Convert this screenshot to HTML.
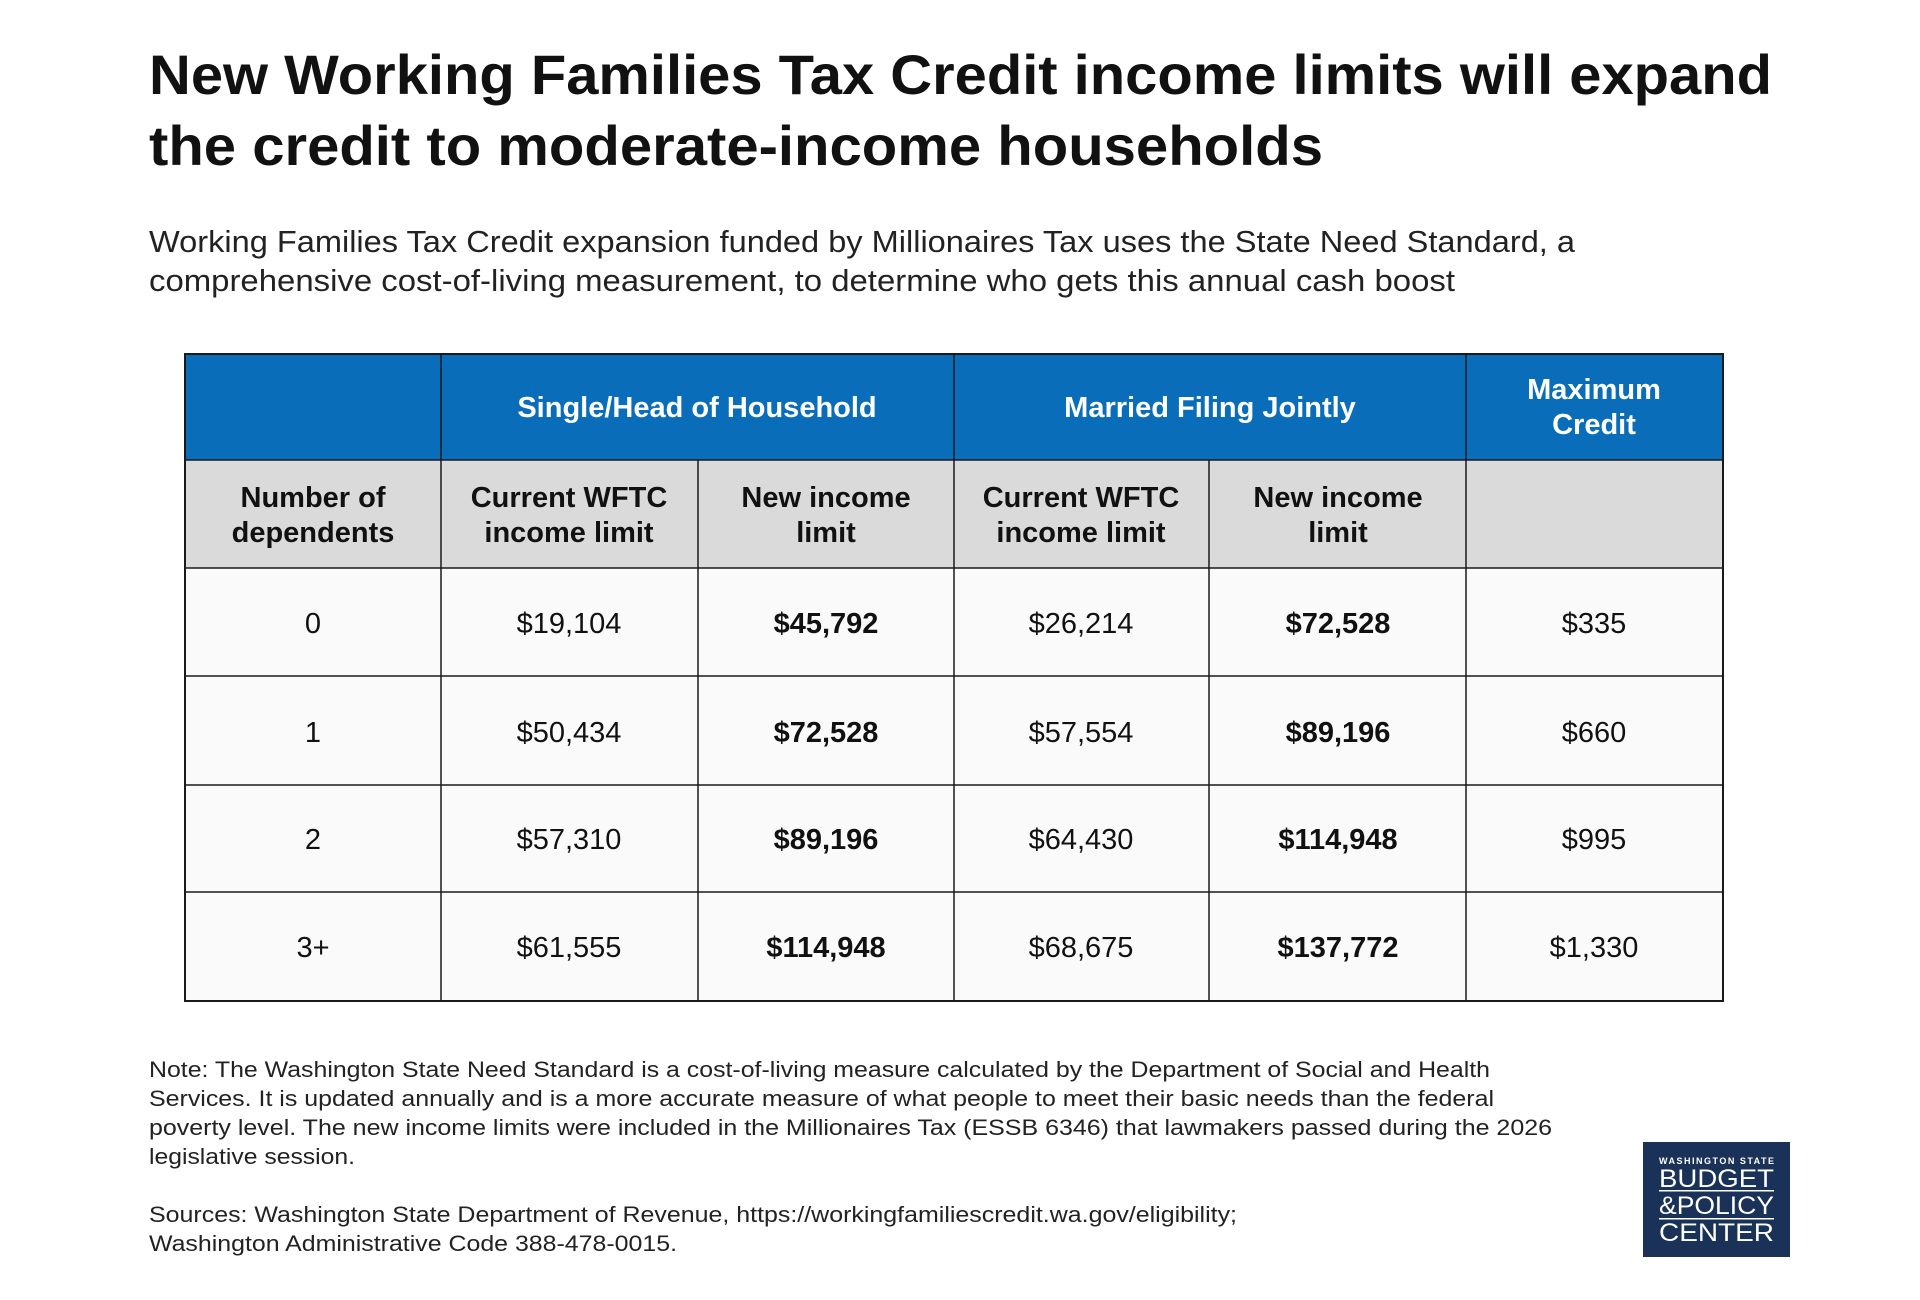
<!DOCTYPE html>
<html><head><meta charset="utf-8"><style>
html,body{margin:0;padding:0;background:#fff;}
svg{display:block;}
text{font-family:"Liberation Sans",sans-serif;}
</style></head><body>
<svg width="1920" height="1300" viewBox="0 0 1920 1300" xmlns="http://www.w3.org/2000/svg">
<rect width="1920" height="1300" fill="#fff"/>
<g fill="#111" font-weight="bold" font-size="56">
<text x="149" y="94" textLength="1623" lengthAdjust="spacingAndGlyphs">New Working Families Tax Credit income limits will expand</text>
<text x="149" y="165" textLength="1174" lengthAdjust="spacingAndGlyphs">the credit to moderate-income households</text>
</g>
<g fill="#222" font-size="31">
<text x="149" y="252" textLength="1426" lengthAdjust="spacingAndGlyphs">Working Families Tax Credit expansion funded by Millionaires Tax uses the State Need Standard, a</text>
<text x="149" y="291" textLength="1306" lengthAdjust="spacingAndGlyphs">comprehensive cost-of-living measurement, to determine who gets this annual cash boost</text>
</g>
<rect x="185" y="354" width="1538" height="106" fill="#0a6dba"/>
<rect x="185" y="460" width="1538" height="108" fill="#dadada"/>
<rect x="185" y="568" width="1538" height="433" fill="#fafafa"/>
<g stroke="#1a1a1a" stroke-width="1.5" fill="none">
<line x1="185" y1="460" x2="1723" y2="460"/>
<line x1="185" y1="568" x2="1723" y2="568"/>
<line x1="185" y1="676" x2="1723" y2="676"/>
<line x1="185" y1="785" x2="1723" y2="785"/>
<line x1="185" y1="892" x2="1723" y2="892"/>
<line x1="441" y1="354" x2="441" y2="1001"/>
<line x1="954" y1="354" x2="954" y2="1001"/>
<line x1="1466" y1="354" x2="1466" y2="1001"/>
<line x1="698" y1="460" x2="698" y2="1001"/>
<line x1="1209" y1="460" x2="1209" y2="1001"/>
<rect x="185" y="354" width="1538" height="647" stroke-width="2"/>
</g>
<g fill="#fff" font-weight="bold" font-size="29" text-anchor="middle">
<text x="697" y="417">Single/Head of Household</text>
<text x="1210" y="417">Married Filing Jointly</text>
<text x="1594" y="399">Maximum</text>
<text x="1594" y="434">Credit</text>
</g>
<g fill="#111" font-weight="bold" font-size="29" text-anchor="middle">
<text x="313" y="507">Number of</text><text x="313" y="542">dependents</text>
<text x="569" y="507">Current WFTC</text><text x="569" y="542">income limit</text>
<text x="826" y="507">New income</text><text x="826" y="542">limit</text>
<text x="1081" y="507">Current WFTC</text><text x="1081" y="542">income limit</text>
<text x="1338" y="507">New income</text><text x="1338" y="542">limit</text>
</g>
<g fill="#111" font-size="29" text-anchor="middle">
<text x="313" y="633">0</text><text x="569" y="633">$19,104</text><text x="826" y="633" font-weight="bold">$45,792</text><text x="1081" y="633">$26,214</text><text x="1338" y="633" font-weight="bold">$72,528</text><text x="1594" y="633">$335</text>
<text x="313" y="742">1</text><text x="569" y="742">$50,434</text><text x="826" y="742" font-weight="bold">$72,528</text><text x="1081" y="742">$57,554</text><text x="1338" y="742" font-weight="bold">$89,196</text><text x="1594" y="742">$660</text>
<text x="313" y="849">2</text><text x="569" y="849">$57,310</text><text x="826" y="849" font-weight="bold">$89,196</text><text x="1081" y="849">$64,430</text><text x="1338" y="849" font-weight="bold">$114,948</text><text x="1594" y="849">$995</text>
<text x="313" y="957">3+</text><text x="569" y="957">$61,555</text><text x="826" y="957" font-weight="bold">$114,948</text><text x="1081" y="957">$68,675</text><text x="1338" y="957" font-weight="bold">$137,772</text><text x="1594" y="957">$1,330</text>
</g>
<g fill="#222" font-size="22">
<text x="149" y="1077" textLength="1341" lengthAdjust="spacingAndGlyphs">Note: The Washington State Need Standard is a cost-of-living measure calculated by the Department of Social and Health</text>
<text x="149" y="1106" textLength="1345" lengthAdjust="spacingAndGlyphs">Services. It is updated annually and is a more accurate measure of what people to meet their basic needs than the federal</text>
<text x="149" y="1135" textLength="1403" lengthAdjust="spacingAndGlyphs">poverty level. The new income limits were included in the Millionaires Tax (ESSB 6346) that lawmakers passed during the 2026</text>
<text x="149" y="1164" textLength="206" lengthAdjust="spacingAndGlyphs">legislative session.</text>
<text x="149" y="1222" textLength="1088" lengthAdjust="spacingAndGlyphs">Sources: Washington State Department of Revenue, https://workingfamiliescredit.wa.gov/eligibility;</text>
<text x="149" y="1251" textLength="528" lengthAdjust="spacingAndGlyphs">Washington Administrative Code 388-478-0015.</text>
</g>
<rect x="1643" y="1142" width="147" height="115" fill="#1a3158"/>
<g fill="#fff">
<text x="1659" y="1164" font-size="9" font-weight="bold" textLength="115" lengthAdjust="spacing">WASHINGTON STATE</text>
<text x="1659" y="1187" font-size="25" textLength="115" lengthAdjust="spacingAndGlyphs">BUDGET</text>
<rect x="1659" y="1190" width="115" height="1.5"/>
<text x="1659" y="1214" font-size="25" textLength="115" lengthAdjust="spacingAndGlyphs">&amp;POLICY</text>
<rect x="1659" y="1218" width="115" height="1.5"/>
<text x="1659" y="1241" font-size="25" textLength="115" lengthAdjust="spacingAndGlyphs">CENTER</text>
</g>
</svg>
</body></html>
